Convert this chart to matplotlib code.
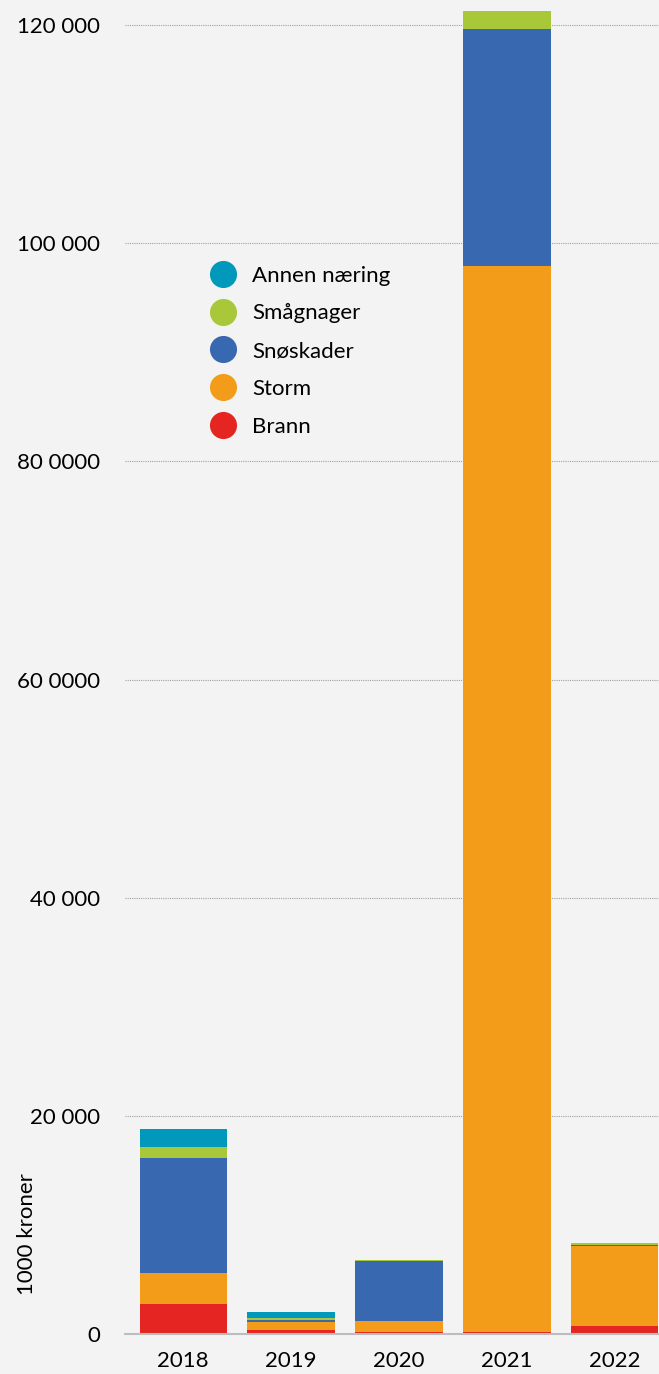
import matplotlib
matplotlib.use('Agg')
import matplotlib.pyplot as plt
from matplotlib.lines import Line2D
import numpy as np

plt.rcParams['font.family'] = ['Lato', 'DejaVu Sans']

# data (1000 kroner)
years = ['2018', '2019', '2020', '2021', '2022']
brann = [2780, 400, 150, 200, 760]
storm = [2840, 730, 1070, 97700, 7330]
snoskader = [10540, 180, 5500, 21700, 90]
smagnager = [1010, 180, 90, 1660, 190]
annen = [1650, 550, 0, 0, 0]

series_names = ['Brann', 'Storm', 'Snøskader', 'Smågnager', 'Annen næring']
series_vals = [brann, storm, snoskader, smagnager, annen]
colors = ['#e52521', '#f39c1a', '#3768b0', '#a8c83a', '#0099bb']

yticks = [0, 20000, 40000, 60000, 80000, 100000, 120000]
ytick_labels = ['0', '20 000', '40 000', '60 0000', '80 0000', '100 000', '120 000']

bg = '#f3f3f3'
fig = plt.figure(figsize=(6.59, 13.74), dpi=100, facecolor=bg)
ax = fig.add_axes([125/659, 40/1374, 534/659, 1334/1374], facecolor=bg)

x = np.arange(len(years))
bottom = np.zeros(len(years))
for name, vals, c in zip(series_names, series_vals, colors):
    ax.bar(x, vals, width=0.81, bottom=bottom, color=c, label=name, zorder=3)
    bottom += np.array(vals)

ax.set_xlim(-0.54, 4.41)
ax.set_ylim(0, 122300)
ax.set_xticks(x)
ax.set_xticklabels(years, fontsize=16)
ax.set_yticks(yticks)
ax.set_yticklabels(ytick_labels, fontsize=16)
ax.tick_params(axis='x', length=0, pad=12)
ax.tick_params(axis='y', length=0, pad=18)

ax.yaxis.grid(True, linestyle=(0, (1, 1)), color='#a0a0a0', linewidth=0.8, zorder=0)
for s in ['top', 'right', 'left']:
    ax.spines[s].set_visible(False)
ax.spines['bottom'].set_color('#bdbdbd')
ax.spines['bottom'].set_linewidth(1.5)
ax.spines['bottom'].set_zorder(4)

fig.text(27/659, 1 - 1234/1374, '1000 kroner', rotation=90, fontsize=16,
         ha='center', va='center')

# legend, top entry first
handles = [Line2D([], [], marker='o', linestyle='none', markersize=19.5,
                  markerfacecolor=c, markeredgecolor='none') for c in colors[::-1]]
ax.legend(handles, series_names[::-1], loc='upper left', frameon=False,
          bbox_to_anchor=(0.142, 0.8075), fontsize=16, labelspacing=0.8,
          handletextpad=0.72, handlelength=1.2, borderaxespad=0)

fig.savefig('out.png', dpi=100, facecolor=bg)
